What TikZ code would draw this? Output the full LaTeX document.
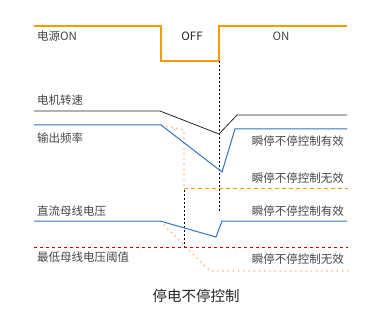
\documentclass[tikz,border=0pt]{standalone}
\usepackage{fontspec}
\setmainfont{Noto Sans CJK SC}
\definecolor{pwc}{RGB}{245,155,0}
\definecolor{blc}{RGB}{46,117,196}
\definecolor{odc}{RGB}{247,168,90}
\definecolor{odashc}{RGB}{240,150,20}
\definecolor{rdc}{RGB}{192,0,0}
\definecolor{txc}{RGB}{70,70,70}
\begin{document}
\begin{tikzpicture}[x=1pt,y=-1pt,
  lbl/.style={font=\fontsize{11.5}{13}\selectfont, text=txc, inner sep=0pt},
  pw/.style={draw=pwc, line width=1.2pt},
  bl/.style={draw=blc, line width=1pt},
  bk/.style={draw=black!85, line width=0.8pt},
  od/.style={draw=odc, line width=1.2pt, dash pattern=on 1.2pt off 4pt},
  odash/.style={draw=odashc, line width=1pt, dash pattern=on 4pt off 3pt},
  kd/.style={draw=black, line width=0.7pt, dash pattern=on 2pt off 2pt},
  rd/.style={draw=rdc, line width=0.9pt, dash pattern=on 3pt off 3pt}]
\useasboundingbox (0,0) rectangle (367,318);
% power
\coordinate (p0) at (34,26); \coordinate (p1) at (161,26); \coordinate (p2) at (161,61);
\coordinate (p3) at (219,61); \coordinate (p4) at (219,26); \coordinate (p5) at (347,26);
\draw[pw] (p0) -- (p1) -- (p2) -- (p3) -- (p4) -- (p5);
\node[lbl, anchor=west] (t1) at (37,36) {电源ON};
\node[lbl, text=black!85] (t2) at (192,36) {OFF};
\node[lbl] (t3) at (281,36) {ON};
% verticals
\coordinate (v1a) at (219,61); \coordinate (v1b) at (219,213);
\draw[kd] (v1a) -- (v1b);
\coordinate (v2a) at (184,190); \coordinate (v2b) at (184,248);
\draw[kd] (v2a) -- (v2b);
% motor speed
\node[lbl, anchor=west] (t4) at (37,100) {电机转速};
\coordinate (m0) at (34,111); \coordinate (m1) at (160,111); \coordinate (m2) at (219,134);
\coordinate (m3) at (237,115); \coordinate (m4) at (347,115);
\draw[bk] (m0) -- (m1) -- (m2) -- (m3) -- (m4);
% output freq
\node[lbl, anchor=west] (t5) at (37,138) {输出频率};
\coordinate (f0) at (34,125); \coordinate (f1) at (161,125); \coordinate (f2) at (222,172);
\coordinate (f3) at (235,129); \coordinate (f4) at (347,129);
\coordinate (g1) at (184,130); \coordinate (g2) at (184,189); \coordinate (g3) at (348,189);
\draw[od] (f1) -- (g1) -- (g2);
\draw[odash] (g2) -- (g3);
\draw[bl] (f0) -- (f1) -- (f2) -- (f3) -- (f4);
\node[lbl, anchor=east] (t6) at (344,141) {瞬停不停控制有效};
\node[lbl, anchor=east] (t7) at (344,178) {瞬停不停控制无效};
% dc bus
\node[lbl, anchor=west] (t8) at (37,211) {直流母线电压};
\node[lbl, anchor=east] (t9) at (344,211) {瞬停不停控制有效};
\coordinate (d0) at (34,221); \coordinate (d1) at (160,221); \coordinate (d2) at (216,237);
\coordinate (d3) at (222,221); \coordinate (d4) at (347,221);
\coordinate (h1) at (210,271); \coordinate (h2) at (349,271);
\draw[od] (d1) -- (h1) -- (h2);
\draw[bl] (d0) -- (d1) -- (d2) -- (d3) -- (d4);
\coordinate (r0) at (34,247); \coordinate (r1) at (348,247);
\draw[rd] (r0) -- (r1);
\node[lbl, anchor=west] (t10) at (37,257) {最低母线电压阈值};
\node[lbl, anchor=east] (t11) at (344,259) {瞬停不停控制无效};
\node[font=\fontsize{14.5}{16}\selectfont, text=black!85, inner sep=0pt] (tt) at (196,296) {停电不停控制};
\end{tikzpicture}
\end{document}
